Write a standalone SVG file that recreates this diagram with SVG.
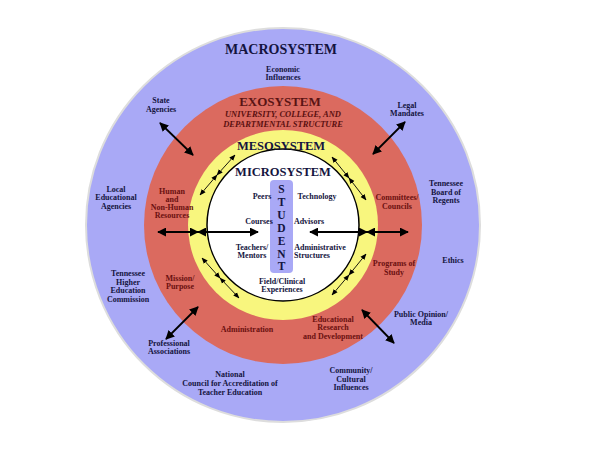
<svg xmlns="http://www.w3.org/2000/svg" width="600" height="449" viewBox="0 0 600 449">
<defs>
<marker id="a" viewBox="0 0 10 10" refX="9" refY="5" markerWidth="5" markerHeight="5" orient="auto-start-reverse"><path d="M0,0L10,5L0,10z" fill="#000"/></marker>
<marker id="s" viewBox="0 0 10 10" refX="9" refY="5" markerWidth="7" markerHeight="7" orient="auto-start-reverse"><path d="M0,1L10,5L0,9z" fill="#000"/></marker>
<style>
text{font-family:"Liberation Serif",serif;font-weight:bold;text-anchor:middle;fill:#141440;font-size:8px}
.h{font-size:13px}
.r{fill:#5a1414}
.n{fill:#6a1010}
.i{font-style:italic;fill:#5a1010;font-size:8.5px}
.st{font-size:11.5px;fill:#141440}
.t{stroke:#000;stroke-width:1.8;fill:none}
.f{stroke:#000;stroke-width:0.9;fill:none}
</style>
</defs>
<rect width="600" height="449" fill="#fff"/>
<g id="macro"><circle cx="283" cy="225" r="197" fill="#a9a9f6" stroke="#ddd" stroke-width="2"/></g>
<g id="exo"><circle cx="283" cy="225" r="139" fill="#db6a5f"/></g>
<g id="meso"><circle cx="283" cy="225" r="95" fill="#f8f67e"/></g>
<g id="micro"><circle cx="283" cy="225" r="76" fill="#fff" stroke="#000" stroke-width="1.5"/></g>
<g id="student"><rect x="270" y="180" width="23" height="93" rx="4" fill="#a9a9f6"/>
<text class="st" x="281.5" y="193">S</text><text class="st" x="281.5" y="206">T</text><text class="st" x="281.5" y="219">U</text><text class="st" x="281.5" y="232">D</text><text class="st" x="281.5" y="245">E</text><text class="st" x="281.5" y="258">N</text><text class="st" x="281.5" y="270">T</text></g>
<g id="labels">
<text class="h" x="281" y="54" style="font-size:14px">MACROSYSTEM</text>
<text x="283" y="72">Economic</text><text x="283" y="80">Influences</text>
<text class="h r" x="280" y="106">EXOSYSTEM</text>
<text class="i" x="283" y="117">UNIVERSITY, COLLEGE, AND</text>
<text class="i" x="283" y="127">DEPARTMENTAL STRUCTURE</text>
<text class="h" x="281" y="150" style="font-size:12.5px">MESOSYSTEM</text>
<text class="h" x="283" y="176" style="font-size:12.5px">MICROSYSTEM</text>
<text x="161" y="103">State</text><text x="161" y="112">Agencies</text>
<text x="407" y="108">Legal</text><text x="407" y="116">Mandates</text>
<text x="116" y="192">Local</text><text x="116" y="200">Educational</text><text x="116" y="209">Agencies</text>
<text class="n" x="172" y="194">Human</text><text class="n" x="172" y="202">and</text><text class="n" x="172" y="210">Non-Human</text><text class="n" x="172" y="218">Resources</text>
<text x="262" y="199">Peers</text><text x="317" y="199">Technology</text>
<text x="259" y="224">Courses</text><text x="309" y="224">Advisors</text>
<text class="n" x="397" y="200">Committees/</text><text class="n" x="397" y="209">Councils</text>
<text x="446" y="186">Tennessee</text><text x="446" y="195">Board of</text><text x="446" y="203">Regents</text>
<text x="252" y="250">Teachers/</text><text x="252" y="258">Mentors</text>
<text x="320" y="250">Administrative</text><text x="312" y="258">Structures</text>
<text class="n" x="394" y="266">Programs of</text><text class="n" x="394" y="275">Study</text>
<text x="453" y="263">Ethics</text>
<text x="282" y="284">Field/Clinical</text><text x="282" y="292">Experiences</text>
<text x="128" y="276">Tennessee</text><text x="128" y="285">Higher</text><text x="128" y="293">Education</text><text x="128" y="302">Commission</text>
<text class="n" x="180" y="281">Mission/</text><text class="n" x="180" y="289">Purpose</text>
<text x="421" y="317">Public Opinion/</text><text x="421" y="325">Media</text>
<text class="n" x="247" y="332">Administration</text>
<text class="n" x="333" y="322">Educational</text><text class="n" x="333" y="330">Research</text><text class="n" x="333" y="339">and Development</text>
<text x="169" y="346">Professional</text><text x="169" y="354">Associations</text>
<text x="230" y="377">National</text><text x="230" y="386">Council for Accreditation of</text><text x="230" y="395">Teacher Education</text>
<text x="351" y="373">Community/</text><text x="351" y="382">Cultural</text><text x="351" y="390">Influences</text>
</g>
<g id="connectors">
<line class="t" x1="158" y1="232" x2="198" y2="232" marker-start="url(#a)" marker-end="url(#a)"/>
<line class="t" x1="198" y1="232" x2="258" y2="232" marker-start="url(#a)" marker-end="url(#a)"/>
<line class="t" x1="310" y1="232" x2="367" y2="232" marker-start="url(#a)" marker-end="url(#a)"/>
<line class="t" x1="367" y1="232" x2="408" y2="232" marker-start="url(#a)" marker-end="url(#a)"/>
<line class="t" x1="160" y1="123" x2="193" y2="155" marker-start="url(#a)" marker-end="url(#a)"/>
<line class="t" x1="405" y1="122" x2="373" y2="154" marker-start="url(#a)" marker-end="url(#a)"/>
<line class="t" x1="166" y1="339" x2="198" y2="307" marker-start="url(#a)" marker-end="url(#a)"/>
<line class="t" x1="394" y1="343" x2="362" y2="310" marker-start="url(#a)" marker-end="url(#a)"/>
<line class="f" x1="200" y1="195" x2="217" y2="175" marker-start="url(#s)" marker-end="url(#s)"/>
<line class="f" x1="217" y1="175" x2="235" y2="155" marker-start="url(#s)" marker-end="url(#s)"/>
<line class="f" x1="332" y1="157" x2="349" y2="178" marker-start="url(#s)" marker-end="url(#s)"/>
<line class="f" x1="349" y1="178" x2="366" y2="200" marker-start="url(#s)" marker-end="url(#s)"/>
<line class="f" x1="202" y1="258" x2="220" y2="278" marker-start="url(#s)" marker-end="url(#s)"/>
<line class="f" x1="220" y1="278" x2="239" y2="298" marker-start="url(#s)" marker-end="url(#s)"/>
<line class="f" x1="366" y1="254" x2="349" y2="275" marker-start="url(#s)" marker-end="url(#s)"/>
<line class="f" x1="349" y1="275" x2="332" y2="295" marker-start="url(#s)" marker-end="url(#s)"/>
</g>
</svg>
